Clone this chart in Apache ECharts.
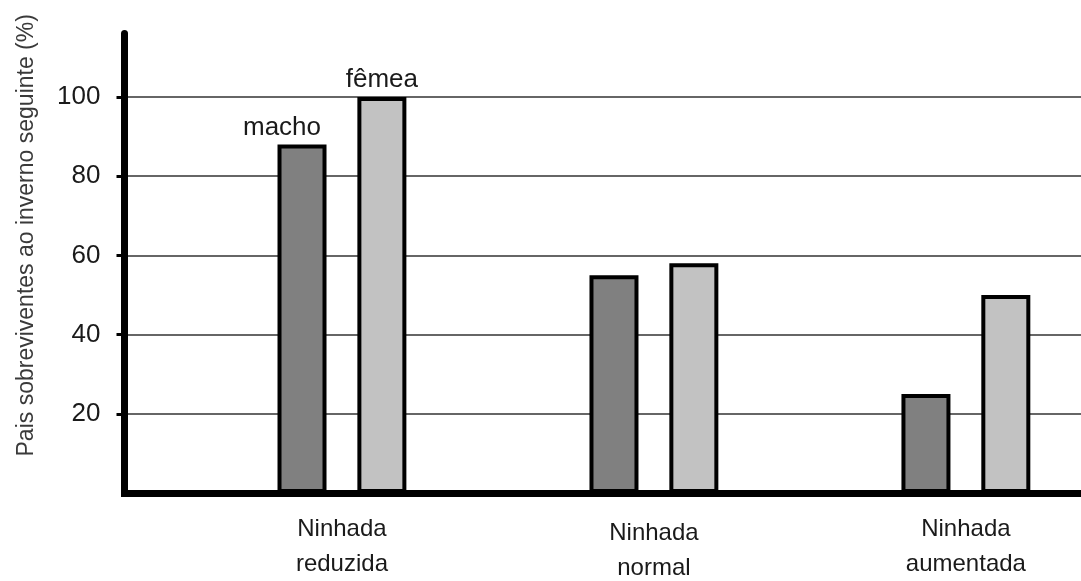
<!DOCTYPE html>
<html><head><meta charset="utf-8">
<script src="https://cdn.jsdelivr.net/npm/echarts@6/dist/echarts.min.js"></script>
<style>html,body{margin:0;padding:0;background:#fff}#c{width:1081px;height:581px}</style>
</head><body><div id="c"></div>
<script>
// ---- data ----
const categories = ['Ninhada\nreduzida', 'Ninhada\nnormal', 'Ninhada\naumentada'];
const categoryPositions = [1, 2, 3];
const seriesNames = ['macho', 'fêmea'];
const machoValues = [88, 55, 25];
const femeaValues = [100, 58, 50];
const yTicks = [20, 40, 60, 80, 100];
const yTitle = 'Pais sobreviventes ao inverno seguinte (%)';

// ---- chart ----
const FONT = 'Arial, "Liberation Sans", sans-serif';
const chart = echarts.init(document.getElementById('c'), null, {renderer: 'canvas'});

function buildData(values, labelOffset) {
  return values.map((v, i) => {
    const item = {value: [categoryPositions[i], v]};
    if (i === 0) item.label = {show: true, offset: labelOffset};
    return item;
  });
}

const barBase = {
  type: 'bar',
  barWidth: 49,
  barGap: '63%',
  label: {
    show: false, position: 'top', distance: 4, formatter: '{a}',
    fontSize: 26, fontFamily: FONT, color: '#1a1a1a'
  }
};

chart.setOption({
  animation: false,
  backgroundColor: '#fff',
  grid: {left: 124.5, right: 0, top: 33.6, bottom: 88, containLabel: false},
  xAxis: {
    type: 'value', min: 0.303, max: 3.369,
    axisLine: {show: true, lineStyle: {color: '#000', width: 7, cap: 'square'}},
    axisTick: {show: false},
    splitLine: {show: false},
    axisLabel: {
      customValues: categoryPositions,
      margin: 19,
      formatter: function (v) {
        const i = categoryPositions.indexOf(v);
        if (i < 0) return '';
        return (i === 1 ? '{b|' : '{a|') + categories[i] + '}';
      },
      rich: {
        a: {fontSize: 24, lineHeight: 35, fontFamily: FONT, color: '#1a1a1a', align: 'center'},
        b: {fontSize: 24, lineHeight: 35, fontFamily: FONT, color: '#1a1a1a', align: 'center', padding: [7, 0, 0, 0]}
      }
    }
  },
  yAxis: {
    type: 'value', min: 0, max: 116, interval: 20,
    name: yTitle,
    nameLocation: 'middle',
    nameGap: 86,
    nameTextStyle: {fontSize: 23, fontFamily: FONT, color: '#3a3a3a', padding: [0, 0, 0, 56]},
    axisLine: {show: true, lineStyle: {color: '#000', width: 7}},
    axisTick: {show: true, customValues: yTicks, length: 8, lineStyle: {color: '#000', width: 3}},
    axisLabel: {customValues: yTicks, margin: 24, fontSize: 26, fontFamily: FONT, color: '#1a1a1a'},
    splitLine: {show: true, lineStyle: {color: ['#333', '#333', '#333', '#333', '#333', '#333', 'rgba(0,0,0,0)'], width: 1.5}}
  },
  series: [
    Object.assign({}, barBase, {
      name: seriesNames[0],
      itemStyle: {color: '#808080', borderColor: '#000', borderWidth: 4},
      data: buildData(machoValues, [-20, 0])
    }),
    Object.assign({}, barBase, {
      name: seriesNames[1],
      itemStyle: {color: '#c2c2c2', borderColor: '#000', borderWidth: 4},
      data: buildData(femeaValues, [0, 0])
    })
  ]
});
</script>
</body></html>
